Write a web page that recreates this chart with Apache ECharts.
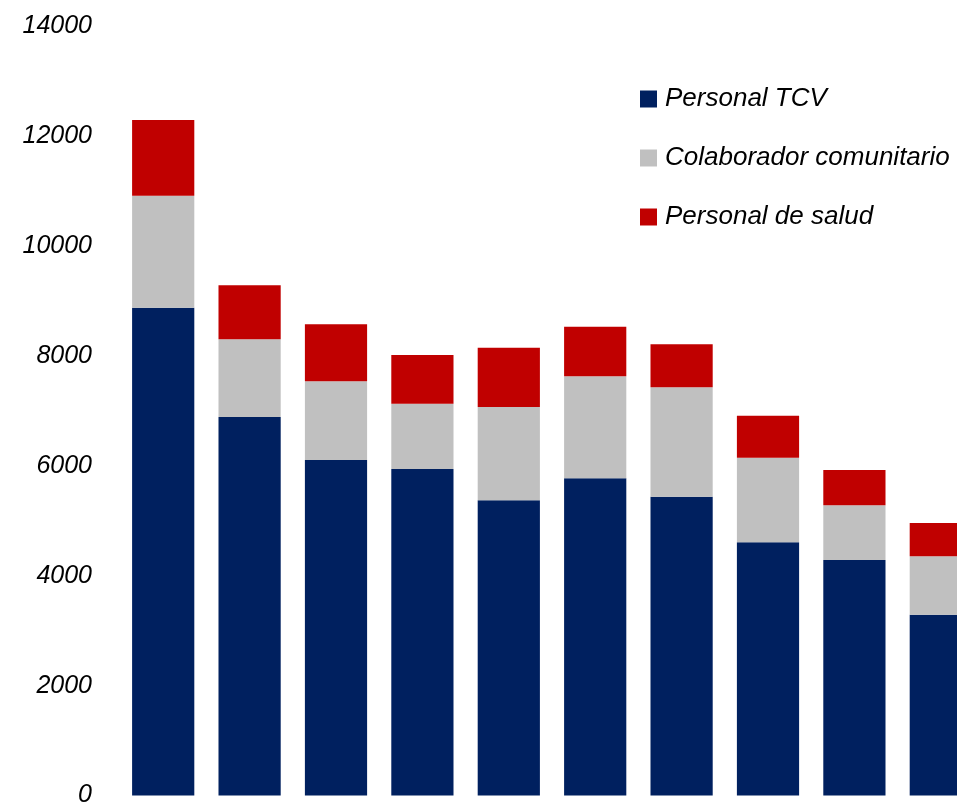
<!DOCTYPE html>
<html>
<head>
<meta charset="utf-8">
<title>Personal por categoría</title>
<script src="https://cdn.jsdelivr.net/npm/echarts@6/dist/echarts.min.js"></script>
<style>
  html, body { margin: 0; padding: 0; background: #fff; }
  #myChart { width: 957px; height: 807px; }
</style>
</head>
<body>
<div id="myChart"></div>
<script>
// datos
const categories = ["1", "2", "3", "4", "5", "6", "7", "8", "9", "10"];
const personalTCV = [8875, 6886, 6104, 5940, 5371, 5771, 5436, 4607, 4285, 3289];
const colaborador = [2038, 1414, 1432, 1188, 1697, 1856, 1991, 1539, 995, 1063];
const personalSalud = [1377, 982, 1037, 886, 1079, 902, 782, 764, 642, 606];
const yTicks = [0, 2000, 4000, 6000, 8000, 10000, 12000, 14000];

const fontFamily = "'Liberation Sans Narrow', 'Arial Narrow', 'Liberation Sans', Arial, sans-serif";

let myChart = echarts.init(document.getElementById("myChart"));

function barSeries(name, data, color) {
  return {
    name: name,
    type: "bar",
    stack: "total",
    barCategoryGap: "28%",
    itemStyle: { color: color },
    data: data
  };
}

let option = {
  animation: false,
  grid: {
    left: 120,
    right: -27, // el último bar queda cortado por el borde derecho
    top: 26,
    bottom: 11.5,
    outerBoundsMode: "none"
  },
  legend: {
    orient: "vertical",
    left: 640,
    top: 84,
    padding: 0,
    icon: "rect",
    itemWidth: 17,
    itemHeight: 17,
    itemGap: 29,
    selectedMode: false,
    textStyle: {
      fontFamily: fontFamily,
      fontStyle: "italic",
      fontSize: 26,
      lineHeight: 30,
      padding: [0, 0, 0, 3],
      color: "#000"
    },
    data: ["Personal TCV", "Colaborador comunitario", "Personal de salud"]
  },
  xAxis: {
    type: "category",
    data: categories,
    axisLine: { show: false },
    axisTick: { show: false },
    axisLabel: { show: false }
  },
  yAxis: {
    type: "value",
    min: yTicks[0],
    max: yTicks[yTicks.length - 1],
    interval: 2000,
    splitLine: { show: false },
    axisLine: { show: false },
    axisTick: { show: false },
    axisLabel: {
      margin: 28,
      fontFamily: fontFamily,
      fontStyle: "italic",
      fontSize: 25,
      color: "#000",
      formatter: function (v) { return String(v); }
    }
  },
  series: [
    barSeries("Personal TCV", personalTCV, "#00205F"),
    barSeries("Colaborador comunitario", colaborador, "#C0C0C0"),
    barSeries("Personal de salud", personalSalud, "#C00000")
  ]
};

myChart.setOption(option, true);
</script>
</body>
</html>
